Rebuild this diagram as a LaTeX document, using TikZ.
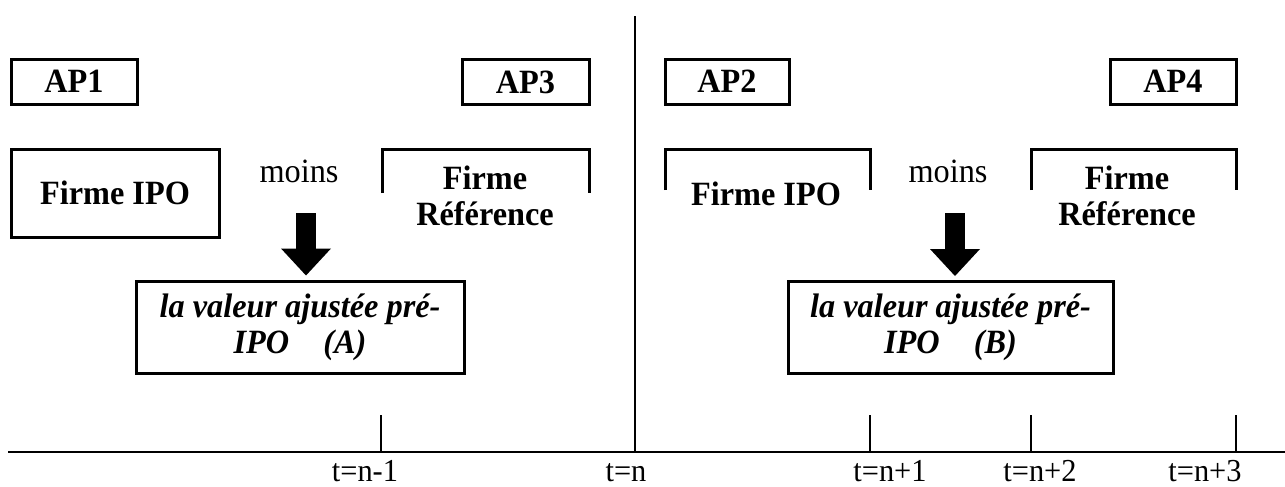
\documentclass[tikz,border=0pt]{standalone}
\usepackage{fontspec}
\setmainfont{Liberation Serif}[FakeStretch=0.95]
\usetikzlibrary{arrows.meta}
\begin{document}
\begin{tikzpicture}[x=0.5pt,y=-0.5pt,
  bigfont/.style={font=\fontsize{17pt}{18pt}\selectfont\bfseries},
  box/.style={draw,line width=1.5pt,inner sep=0pt,bigfont},
  apbox/.style={box,minimum height=22.5pt},
  lbl/.style={inner sep=0pt,bigfont},
  brk/.style={line width=1.5pt},
  moinsstyle/.style={inner sep=0pt,font=\fontsize{17pt}{18pt}\selectfont},
  valbox/.style={draw,line width=1.5pt,inner sep=0pt,align=center,
    font=\fontsize{17pt}{18pt}\selectfont\bfseries\itshape,minimum height=46pt},
  blockarrow/.style={line width=10pt,-{Triangle[width=25pt,length=13.5pt,line width=0pt]},shorten >=2pt},
  axisline/.style={line width=0.9pt},
  tickline/.style={line width=0.75pt},
  divline/.style={line width=1pt},
  tlbl/.style={inner sep=0pt,anchor=base,font=\fontsize{16pt}{18pt}\selectfont}]
\useasboundingbox (0,0) rectangle (1285,487);

% top AP boxes
\node[apbox,minimum width=63pt] (ap1) at (74,81.5) {AP1};
\node[apbox,minimum width=63.5pt] (ap3) at (525.5,82) {AP3};
\node[apbox,minimum width=62pt] (ap2) at (727,81.5) {AP2};
\node[apbox,minimum width=63pt] (ap4) at (1173,81.5) {AP4};

% firms
\node[box,minimum width=104pt,minimum height=44pt] (ipoA) at (115,193) {Firme IPO};
\node[lbl,align=center] (refA) at (485,196) {Firme\\Référence};
\draw[brk] (382,193) -- (382,149) -- (589,149) -- (589,193);
\node[lbl] (ipoB) at (766,194) {Firme IPO};
\draw[brk] (665,190) -- (665,149) -- (870,149) -- (870,190);
\node[lbl,align=center] (refB) at (1127,196) {Firme\\Référence};
\draw[brk] (1031,190) -- (1031,149) -- (1236,149) -- (1236,190);

\node[moinsstyle] (mA) at (299,171) {moins};
\node[moinsstyle] (mB) at (948,171) {moins};

% result boxes
\node[valbox,minimum width=164pt] (valA) at (300,327) {la valeur ajustée pré-\\IPO\quad(A)};
\node[valbox,minimum width=162.5pt] (valB) at (950.5,327.5) {la valeur ajustée pré-\\IPO\quad(B)};

% block arrows
\coordinate (sA) at (306,213);
\coordinate (sB) at (955,213);
\draw[blockarrow] (sA) -- (sA |- valA.north);
\draw[blockarrow] (sB) -- (sB |- valB.north);

% axis
\coordinate (ax0) at (8,452);
\coordinate (ax1) at (1285,452);
\draw[axisline] (ax0) -- (ax1);
\coordinate (top) at (635,16);
\draw[divline] (top) -- (top |- ax0);
\coordinate (k1) at (381,415);
\coordinate (k3) at (870,415);
\coordinate (k4) at (1031,415);
\coordinate (k5) at (1236,415);
\draw[tickline] (k1) -- (k1 |- ax0);
\draw[tickline] (k3) -- (k3 |- ax0);
\draw[tickline] (k4) -- (k4 |- ax0);
\draw[tickline] (k5) -- (k5 |- ax0);

\node[tlbl] (l1) at (365,481) {t=n-1};
\node[tlbl] (l2) at (626,481) {t=n};
\node[tlbl] (l3) at (890,481) {t=n+1};
\node[tlbl] (l4) at (1040,481) {t=n+2};
\node[tlbl] (l5) at (1205,481) {t=n+3};
\end{tikzpicture}
\end{document}
